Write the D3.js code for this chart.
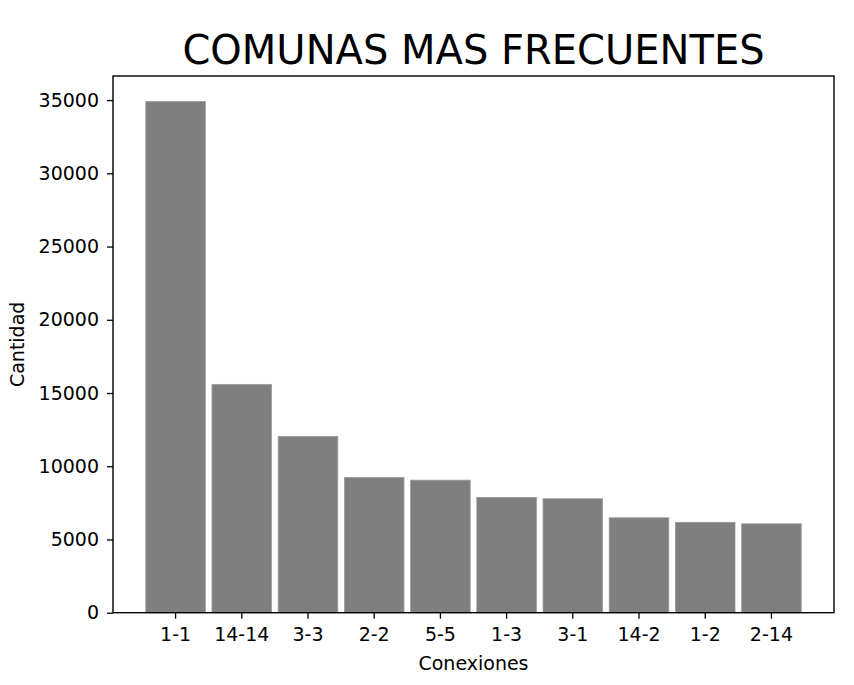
<!DOCTYPE html>
<html>
<head>
<meta charset="utf-8">
<script src="https://cdn.jsdelivr.net/npm/d3@7/dist/d3.min.js"></script>
<style>
  html, body { margin: 0; padding: 0; background: #fff; }
  svg { display: block; font-family: "DejaVu Sans", sans-serif; }
</style>
</head>
<body>
<svg id="chart" width="854" height="685"></svg>
<script>
const categories = ["1-1", "14-14", "3-3", "2-2", "5-5", "1-3", "3-1", "14-2", "1-2", "2-14"];
const values = [34900, 15590, 12040, 9230, 9050, 7870, 7780, 6480, 6170, 6070];
const yTicks = [0, 5000, 10000, 15000, 20000, 25000, 30000, 35000];
const title = "COMUNAS MAS FRECUENTES";
const xLabel = "Conexiones";
const yLabel = "Cantidad";

const svg = d3.select("#chart");
const pLeft = 113, pRight = 834, pTop = 76, pBottom = 612.7;

const x = d3.scaleBand()
  .domain(categories)
  .range([pLeft, pRight])
  .paddingInner(0.1)
  .paddingOuter(0.495);

const y = d3.scaleLinear()
  .domain([0, d3.max(values) * 1.05])
  .range([pBottom, pTop]);

// bars
svg.append("g")
  .selectAll("rect")
  .data(categories)
  .join("rect")
  .attr("x", d => x(d))
  .attr("width", x.bandwidth())
  .attr("y", (d, i) => y(values[i]))
  .attr("height", (d, i) => y(0) - y(values[i]))
  .attr("fill", "#7f7f7f")
  .attr("stroke", "#9a9a9a")
  .attr("stroke-width", 0.8);

// axes
const xAxis = d3.axisBottom(x).tickSize(6).tickPadding(9);
const gx = svg.append("g")
  .attr("transform", `translate(0,${pBottom})`)
  .call(xAxis);
gx.select(".domain").remove();
gx.selectAll(".tick line").attr("stroke", "#000").attr("stroke-width", 1.3);
gx.selectAll(".tick text").attr("font-size", 19).attr("fill", "#000")
  .attr("font-family", "DejaVu Sans, sans-serif");

const yAxis = d3.axisLeft(y).tickValues(yTicks).tickSize(6).tickPadding(8).tickFormat(d3.format("d"));
const gy = svg.append("g")
  .attr("transform", `translate(${pLeft},0)`)
  .call(yAxis);
gy.select(".domain").remove();
gy.selectAll(".tick line").attr("stroke", "#000").attr("stroke-width", 1.3);
gy.selectAll(".tick text").attr("font-size", 19).attr("fill", "#000")
  .attr("font-family", "DejaVu Sans, sans-serif");

// frame
svg.append("rect")
  .attr("x", pLeft).attr("y", pTop)
  .attr("width", pRight - pLeft).attr("height", pBottom - pTop)
  .attr("fill", "none").attr("stroke", "#000").attr("stroke-width", 1.4);

// title
svg.append("text")
  .attr("x", (pLeft + pRight) / 2)
  .attr("y", 64)
  .attr("text-anchor", "middle")
  .attr("font-size", 40)
  .attr("fill", "#000")
  .text(title);

// x label
svg.append("text")
  .attr("x", (pLeft + pRight) / 2)
  .attr("y", 670)
  .attr("text-anchor", "middle")
  .attr("font-size", 19)
  .attr("fill", "#000")
  .text(xLabel);

// y label
svg.append("text")
  .attr("transform", `translate(24,${(pTop + pBottom) / 2}) rotate(-90)`)
  .attr("text-anchor", "middle")
  .attr("font-size", 19)
  .attr("fill", "#000")
  .text(yLabel);
</script>
</body>
</html>
